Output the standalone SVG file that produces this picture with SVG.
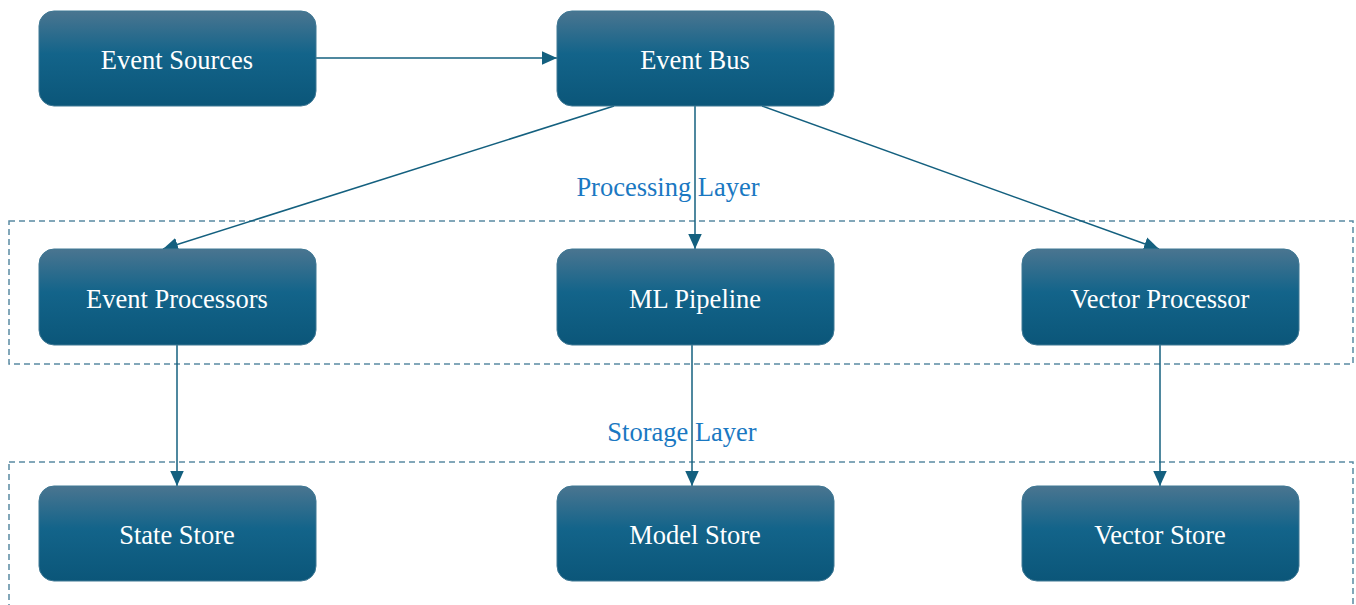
<svg xmlns="http://www.w3.org/2000/svg" width="1356" height="605" viewBox="0 0 1356 605">
  <defs>
    <linearGradient id="nodeFill" x1="0" y1="0" x2="0" y2="1">
      <stop offset="0" stop-color="#4a7590"/>
      <stop offset="0.45" stop-color="#13648a"/>
      <stop offset="1" stop-color="#0b5679"/>
    </linearGradient>
    <marker id="arrow" viewBox="0 0 10 10" refX="10" refY="5" markerWidth="15" markerHeight="15" markerUnits="userSpaceOnUse" orient="auto">
      <path d="M0,0.5 L10,5 L0,9.5 z" fill="#14607f"/>
    </marker>
  </defs>
  <style>
    .node rect { fill: url(#nodeFill); stroke: #3f7894; stroke-width: 1; }
    .node text { fill: #ffffff; font-family: "Liberation Serif", serif; font-size: 26.5px; text-anchor: middle; dominant-baseline: central; }
    .layer rect { fill: none; stroke: #5a8aa3; stroke-width: 1.5; stroke-dasharray: 6 4; }
    .layer text { fill: #1a78c2; font-family: "Liberation Serif", serif; font-size: 26.5px; text-anchor: middle; }
    .edges path { fill: none; stroke: #14607f; stroke-width: 1.5; }
    .edges path.arr { marker-end: url(#arrow); }
  </style>

  <!-- layer frames -->
  <g id="processing-layer" class="layer">
    <rect x="9" y="221" width="1344" height="143"/>
    <text x="668" y="196">Processing Layer</text>
  </g>
  <g id="storage-layer" class="layer">
    <rect x="9" y="462" width="1344" height="160"/>
    <text x="682" y="441">Storage Layer</text>
  </g>

  <!-- connectors -->
  <g id="connectors" class="edges">
    <path class="arr" d="M316,58 L557,58"/>
    <path class="arr" d="M614,106 L163,249"/>
    <path class="arr" d="M695,106 L695,249"/>
    <path class="arr" d="M762,106 L1159,249"/>
    <path class="arr" d="M177,345 L177,486"/>
    <path class="arr" d="M692,345 L692,486"/>
    <path class="arr" d="M1160,345 L1160,486"/>
  </g>

  <!-- nodes -->
  <g id="event-sources" class="node">
    <rect x="39" y="11" width="277" height="95" rx="15"/>
    <text x="177" y="60">Event Sources</text>
  </g>
  <g id="event-bus" class="node">
    <rect x="557" y="11" width="277" height="95" rx="15"/>
    <text x="695" y="60">Event Bus</text>
  </g>
  <g id="event-processors" class="node">
    <rect x="39" y="249" width="277" height="96" rx="15"/>
    <text x="177" y="299">Event Processors</text>
  </g>
  <g id="ml-pipeline" class="node">
    <rect x="557" y="249" width="277" height="96" rx="15"/>
    <text x="695" y="299">ML Pipeline</text>
  </g>
  <g id="vector-processor" class="node">
    <rect x="1022" y="249" width="277" height="96" rx="15"/>
    <text x="1160" y="299">Vector Processor</text>
  </g>
  <g id="state-store" class="node">
    <rect x="39" y="486" width="277" height="95" rx="15"/>
    <text x="177" y="535">State Store</text>
  </g>
  <g id="model-store" class="node">
    <rect x="557" y="486" width="277" height="95" rx="15"/>
    <text x="695" y="535">Model Store</text>
  </g>
  <g id="vector-store" class="node">
    <rect x="1022" y="486" width="277" height="95" rx="15"/>
    <text x="1160" y="535">Vector Store</text>
  </g>
</svg>
